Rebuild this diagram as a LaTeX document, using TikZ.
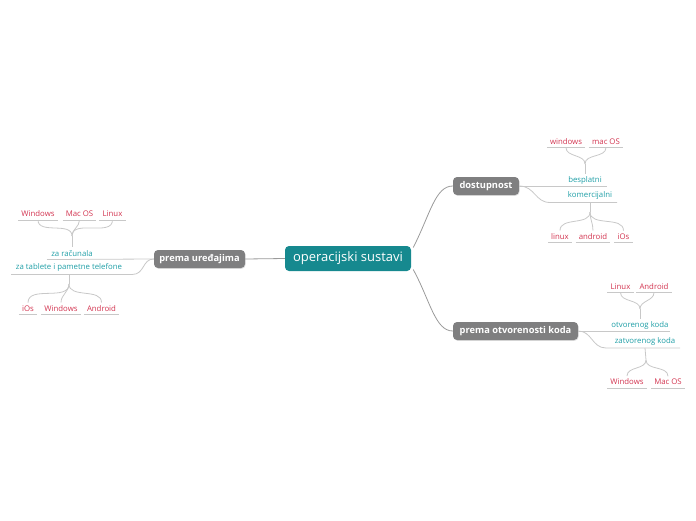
\documentclass[tikz,border=0pt]{standalone}
\usepackage{fontspec}
\setmainfont{Open Sans}
\usetikzlibrary{shadows}
\definecolor{rootc}{HTML}{16898F}
\definecolor{mainc}{HTML}{7F7F80}
\definecolor{subc}{HTML}{1E9EA6}
\definecolor{leafc}{HTML}{D2334F}
\definecolor{linec}{HTML}{9A9A9A}
\definecolor{ulc}{HTML}{C8C8C8}
\tikzset{
  root/.style={fill=rootc, text=white, rounded corners=4pt, minimum height=25pt, font=\fontsize{13}{15}\selectfont, inner sep=0pt},
  maintopic/.style={fill=mainc, text=white, rounded corners=4pt, minimum height=18pt, font=\fontsize{9.3}{11}\selectfont\bfseries, inner sep=0pt, drop shadow={opacity=0.25, shadow xshift=0.6pt, shadow yshift=-0.8pt}},
  subtopic/.style={text=subc, font=\fontsize{7.8}{9}\selectfont, inner xsep=2pt, inner ysep=2.8pt, anchor=south},
  leaf/.style={text=leafc, font=\fontsize{7.8}{9}\selectfont, inner xsep=3pt, inner ysep=2.8pt, anchor=south},
  conn/.style={draw=linec, line width=0.8pt},
  ul/.style={draw=ulc, line width=0.8pt},
}
\begin{document}
\begin{tikzpicture}[x=1pt,y=-1pt]
\useasboundingbox (0,0) rectangle (696,520);
% main nodes
\node[root, minimum width=126pt] (root) at (348,258.5) {operacijski sustavi};
\node[maintopic, minimum width=91pt] (dev) at (199.5,259) {prema uređajima};
\node[maintopic, minimum width=66pt] (dost) at (486,186) {dostupnost};
\node[maintopic, minimum width=125pt] (otv) at (515.5,331) {prema otvorenosti koda};

\draw[conn] (root.west) -- (dev.east);
\draw[conn] (root.east) ++(2,-11) coordinate (r1) .. controls (430,215) and (435,186) .. (dost.west);
\draw[conn] (root.east) ++(2,11) coordinate (r2) .. controls (430,300) and (435,331) .. (otv.west);

% ---- prema uredajima ----
\node[subtopic] (zr) at (72,259.5) {za računala};
\node[subtopic] (zt) at (69,274.5) {za tablete i pametne telefone};
\coordinate (zrL) at (47,259.5);
\coordinate (ztL) at (11,274.5);
\coordinate (ztR) at (132,274.5);
\draw[ul] (zrL) -- (dev.west);
\draw[ul] (ztL) -- (ztR);
\draw[ul] (ztR) .. controls (145,274.5) and (142,259) .. (dev.west);

\node[leaf] (l1) at (38,220) {Windows};
\node[leaf] (l2) at (79.5,220) {Mac OS};
\node[leaf] (l3) at (112.5,220) {Linux};
\node[leaf] (l4) at (28,314.5) {iOs};
\node[leaf] (l5) at (61,314.5) {Windows};
\node[leaf] (l6) at (101.5,314.5) {Android};
\coordinate (j1) at (72,236);
\coordinate (j2) at (69,284);

% ---- dostupnost ----
\node[subtopic] (bes) at (585,187.5) {besplatni};
\node[subtopic] (kom) at (590,202.5) {komercijalni};
\coordinate (besR) at (607,187.5);
\coordinate (komL) at (550,202.5);
\coordinate (komR) at (617,202.5);
\draw[ul] (dost.east) -- (dost.east -| besR);
\draw[ul] (dost.east) .. controls (535,186) and (535,202.5) .. (komL) -- (komR);

\node[leaf] (l7) at (566,147.5) {windows};
\node[leaf] (l8) at (606,147.5) {mac OS};
\node[leaf] (l9) at (560,242.5) {linux};
\node[leaf] (l10) at (593,242.5) {android};
\node[leaf] (l11) at (623.5,242.5) {iOs};
\coordinate (j3) at (585,164);
\coordinate (j4) at (590,212);

% ---- otvorenost ----
\node[subtopic] (ot) at (640,332.5) {otvorenog koda};
\node[subtopic] (zk) at (645,348) {zatvorenog koda};
\coordinate (otR) at (670,332.5);
\coordinate (zkL) at (606,348);
\coordinate (zkR) at (680,348);
\draw[ul] (otv.east) -- (otv.east -| otR);
\draw[ul] (otv.east) .. controls (592,331) and (592,348) .. (zkL) -- (zkR);

\node[leaf] (l12) at (620.5,292.5) {Linux};
\node[leaf] (l13) at (654,292.5) {Android};
\node[leaf] (l14) at (627,388) {Windows};
\node[leaf] (l15) at (668,388) {Mac OS};
\coordinate (j5) at (640,309);
\coordinate (j6) at (646,360);

% leaf underlines
\foreach \n in {l1,l2,l3,l4,l5,l6,l7,l8,l9,l10,l11,l12,l13,l14,l15}
  \draw[ul] (\n.south west) -- (\n.south east);

% braces up (children above parent)
\foreach \c/\j in {l1/j1, l2/j1, l3/j1, l7/j3, l8/j3, l12/j5, l13/j5}{
  \draw[ul] (\c.south) to[out=-90,in=90] (\j);
}
\draw[ul] (j1) -- (zr.north);
\draw[ul] (j3) -- (bes.north);
\draw[ul] (j5) -- (ot.north);
% braces down
\foreach \c/\j in {l4/j2, l5/j2, l6/j2, l9/j4, l10/j4, l11/j4, l14/j6, l15/j6}{
  \draw[ul] (\c.north) to[out=90,in=-90] (\j);
}
\draw[ul] (j2) -- (zt.south);
\draw[ul] (j4) -- (kom.south);
\draw[ul] (j6) -- (zk.south);
\end{tikzpicture}
\end{document}
